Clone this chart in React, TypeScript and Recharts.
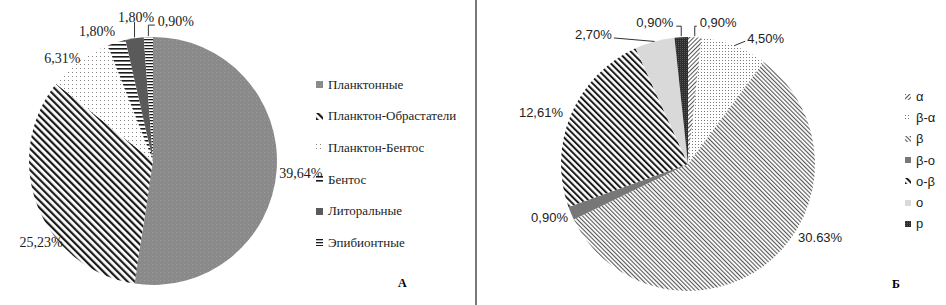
import { PieChart, Pie, Cell, Legend } from 'recharts';

// Chart A — ecological groups
const groupsA = ['Планктонные', 'Планктон-Обрастатели', 'Планктон-Бентос', 'Бентос', 'Литоральные', 'Эпибионтные'];
const valuesA = [39.64, 25.23, 6.31, 1.8, 1.8, 0.9];

// Chart Б — saprobity
const groupsB = ['α', 'β-α', 'β', 'β-o', 'o-β', 'o', 'p'];
const valuesB = [0.9, 4.5, 30.63, 0.9, 12.61, 2.7, 0.9];
const labelsB = ['0,90%', '4,50%', '30.63%', '0,90%', '12,61%', '2,70%', '0,90%'];

const fillsA = ['url(#pA0)', 'url(#pA1)', 'url(#pA2)', 'url(#pA3)', '#5a5a5a', 'url(#pA5)'];
const fillsB = ['url(#pB0)', 'url(#pB1)', 'url(#pB2)', '#777777', 'url(#pB4)', '#d9d9d9', 'url(#pB6)'];

type LabelPos = { dx: number; dy: number; anchor: 'start' | 'middle' | 'end'; leader?: 'elbow' | 'straight' };

const labelPosA: LabelPos[] = [
  { dx: 2.5, dy: 3.5, anchor: 'start' },
  { dx: 3.5, dy: 36, anchor: 'middle' },
  { dx: -17, dy: -3, anchor: 'middle' },
  { dx: -19.5, dy: -10.5, anchor: 'middle' },
  { dx: 1.5, dy: -20.5, anchor: 'middle', leader: 'elbow' },
  { dx: 9.5, dy: -16, anchor: 'start', leader: 'elbow' },
];

const labelPosB: LabelPos[] = [
  { dx: 5, dy: -15, anchor: 'start', leader: 'elbow' },
  { dx: 13, dy: -7.5, anchor: 'start', leader: 'straight' },
  { dx: 29, dy: -24.7, anchor: 'start' },
  { dx: -3, dy: 4.6, anchor: 'end' },
  { dx: -8, dy: -1.6, anchor: 'end' },
  { dx: -42.7, dy: -6.5, anchor: 'end', leader: 'straight' },
  { dx: -8, dy: -15, anchor: 'end', leader: 'elbow' },
];

const dataA = groupsA.map((name, i) => ({ name, value: valuesA[i] }));
const dataB = groupsB.map((name, i) => ({ name, value: valuesB[i] }));

const RAD = Math.PI / 180;
const fmt = (v: number) => v.toFixed(2).replace('.', ',') + '%';

function makeLabel(pos: LabelPos[], texts: (i: number) => string, font: string, size: number) {
  return (p: any) => {
    const { cx, cy, midAngle, outerRadius, index } = p;
    const ax = cx + outerRadius * Math.cos(-midAngle * RAD);
    const ay = cy + outerRadius * Math.sin(-midAngle * RAD);
    const L = pos[index];
    const lx = ax + L.dx;
    const ly = ay + L.dy;
    let line = null;
    if (L.leader === 'elbow') {
      const ey = ly + 4;
      const ex = L.anchor === 'start' ? lx - 3 : L.anchor === 'end' ? lx + 3 : ax;
      line = <path d={`M${ax},${ay - 1} L${ax},${ey} L${ex},${ey}`} stroke="#333" strokeWidth={1} fill="none" />;
    } else if (L.leader === 'straight') {
      const ex = L.anchor === 'start' ? lx - 2 : lx + 2;
      line = <path d={`M${ax},${ay} L${ex},${ly + 3}`} stroke="#333" strokeWidth={1} fill="none" />;
    }
    return (
      <g key={`lbl-${index}`}>
        {line}
        <text x={lx} y={ly} textAnchor={L.anchor} dominantBaseline="central" fontFamily={font} fontSize={size} fill="#222">
          {texts(index)}
        </text>
      </g>
    );
  };
}

// keeps legend rows in slice order instead of the legend's default sorting
function legendContent(order: string[], rowH: number, font: string, size: number, box: number) {
  return (props: any) => {
    const items = [...(props.payload || [])].sort((a: any, b: any) => order.indexOf(a.value) - order.indexOf(b.value));
    return (
      <div>
        {items.map((e: any, i: number) => (
          <div key={i} style={{ height: rowH, display: 'flex', alignItems: 'center', fontFamily: font, fontSize: size, color: '#222' }}>
            <svg width={box + 3} height={box} style={{ marginRight: 2 }}>
              <rect x={0} y={0} width={box} height={box} fill={e.color} />
            </svg>
            {e.value}
          </div>
        ))}
      </div>
    );
  };
}

function Patterns() {
  return (
    <svg width={0} height={0} style={{ position: 'absolute' }}>
      <defs>
        <pattern id="pA0" width={4} height={4} patternUnits="userSpaceOnUse">
          <rect width={4} height={4} fill="#8a8a8a" />
          <rect width={1} height={1} fill="#9c9c9c" />
        </pattern>
        <pattern id="pA1" width={5} height={5} patternUnits="userSpaceOnUse" patternTransform="rotate(-45)">
          <rect width={5} height={5} fill="#fff" />
          <rect width={2.2} height={5} fill="#1a1a1a" />
        </pattern>
        <pattern id="pA2" width={4} height={4} patternUnits="userSpaceOnUse">
          <rect width={4} height={4} fill="#fff" />
          <rect width={1} height={1} fill="#888" />
        </pattern>
        <pattern id="pA3" width={4} height={4} patternUnits="userSpaceOnUse">
          <rect width={4} height={4} fill="#fff" />
          <rect width={4} height={1.6} fill="#1a1a1a" />
        </pattern>
        <pattern id="pA5" width={3} height={3} patternUnits="userSpaceOnUse">
          <rect width={3} height={3} fill="#fff" />
          <rect width={3} height={1.3} fill="#1a1a1a" />
        </pattern>
        <pattern id="pB0" width={3} height={3} patternUnits="userSpaceOnUse" patternTransform="rotate(45)">
          <rect width={3} height={3} fill="#fff" />
          <rect width={1} height={3} fill="#555" />
        </pattern>
        <pattern id="pB1" width={3} height={3} patternUnits="userSpaceOnUse">
          <rect width={3} height={3} fill="#fff" />
          <rect width={1} height={1} fill="#777" />
        </pattern>
        <pattern id="pB2" width={3} height={3} patternUnits="userSpaceOnUse" patternTransform="rotate(-45)">
          <rect width={3} height={3} fill="#fff" />
          <rect width={1.1} height={3} fill="#555" />
        </pattern>
        <pattern id="pB4" width={4.5} height={4.5} patternUnits="userSpaceOnUse" patternTransform="rotate(-45)">
          <rect width={4.5} height={4.5} fill="#fff" />
          <rect width={2} height={4.5} fill="#1a1a1a" />
        </pattern>
        <pattern id="pB6" width={2} height={2} patternUnits="userSpaceOnUse">
          <rect width={2} height={2} fill="#2e2e2e" />
          <rect width={1} height={1} fill="#555" />
        </pattern>
      </defs>
    </svg>
  );
}

const serif = '"Liberation Serif", "Times New Roman", serif';
const sans = '"Liberation Sans", Arial, sans-serif';

export default function App() {
  return (
    <div style={{ position: 'absolute', left: 0, top: 0, width: 946, height: 305, background: '#fff', overflow: 'hidden' }}>
      <Patterns />
      <div style={{ position: 'absolute', left: 0, top: 0 }}>
        <PieChart width={476} height={305}>
          <Pie
            data={dataA}
            dataKey="value"
            nameKey="name"
            cx={148}
            cy={156}
            outerRadius={124}
            startAngle={90}
            endAngle={-270}
            stroke="none"
            labelLine={false}
            label={makeLabel(labelPosA, (i) => fmt(valuesA[i]), serif, 14)}
            isAnimationActive={false}
          >
            {dataA.map((d, i) => (
              <Cell key={d.name} fill={fillsA[i]} />
            ))}
          </Pie>
          <Legend
            layout="vertical"
            content={legendContent(groupsA, 31.6, serif, 13, 7)}
            wrapperStyle={{ left: 316, top: 69, width: 160 }}
          />
        </PieChart>
      </div>
      <div style={{ position: 'absolute', left: 476, top: 0 }}>
        <PieChart width={470} height={305}>
          <Pie
            data={dataB}
            dataKey="value"
            nameKey="name"
            cx={207}
            cy={159}
            outerRadius={127}
            startAngle={90}
            endAngle={-270}
            stroke="none"
            labelLine={false}
            label={makeLabel(labelPosB, (i) => labelsB[i], sans, 13)}
            isAnimationActive={false}
          >
            {dataB.map((d, i) => (
              <Cell key={d.name} fill={fillsB[i]} />
            ))}
          </Pie>
          <Legend
            layout="vertical"
            content={legendContent(groupsB, 21.2, sans, 13, 6)}
            wrapperStyle={{ left: 429, top: 86, width: 50 }}
          />
        </PieChart>
      </div>
      <div style={{ position: 'absolute', left: 475, top: 0, width: 2, height: 305, background: '#7a7a7a' }} />
      <div style={{ position: 'absolute', left: 398, top: 276, fontFamily: serif, fontWeight: 'bold', fontSize: 12 }}>А</div>
      <div style={{ position: 'absolute', left: 892, top: 277, fontFamily: serif, fontWeight: 'bold', fontSize: 12 }}>Б</div>
    </div>
  );
}
